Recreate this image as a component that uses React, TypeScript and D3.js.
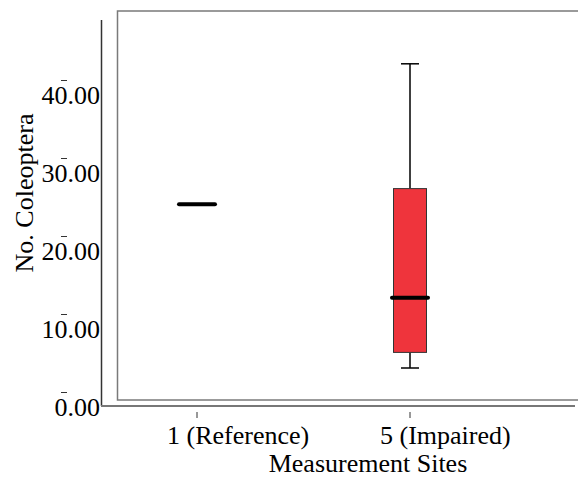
import React from 'react';
import * as d3 from 'd3';

const sites = ['1 (Reference)', '5 (Impaired)'];
const whiskerLow = [26, 5];
const q1 = [26, 7];
const median = [26, 14];
const q3 = [26, 28];
const whiskerHigh = [26, 44];
const yTicks = [0, 10, 20, 30, 40];

const W = 578;
const H = 478;
const font = '"Liberation Serif", "Times New Roman", serif';

const App = () => {
  const x = d3.scalePoint<string>().domain(sites).range([197, 410]);
  const y = d3.scaleLinear().domain([0, 40]).range([407, 95]);

  const boxW = 33;
  const capW = 18;

  return (
    <div style={{ position: 'fixed', left: 0, top: 0 }}>
      <svg width={W} height={H} style={{ display: 'block', fontFamily: font }}>
        <rect width={W} height={H} fill="#fff" />

        {/* inner frame */}
        <rect x={117.5} y={11} width={W} height={389} fill="none" stroke="#7a7a7a" strokeWidth={1.5} />

        {/* axes */}
        <line x1={101.5} y1={20} x2={101.5} y2={406} stroke="#333" strokeWidth={1.5} />
        <line x1={101} y1={406} x2={575} y2={406} stroke="#777" strokeWidth={2} />

        {/* y ticks */}
        {yTicks.map(t => (
          <g key={`y-${t}`}>
            <line x1={61} x2={67} y1={y(t) - 14.5} y2={y(t) - 14.5} stroke="#333" strokeWidth={1} />
            <text x={100} y={y(t)} dy="0.33em" textAnchor="end" fontSize={26} fill="#000">
              {t.toFixed(2)}
            </text>
          </g>
        ))}

        {/* x ticks */}
        {sites.map(s => (
          <g key={`x-${s}`}>
            <line x1={x(s)} x2={x(s)} y1={412} y2={418} stroke="#333" strokeWidth={1} />
            <text x={(x(s) as number) - 30} y={444} textAnchor="start" fontSize={26} fill="#000">
              {s}
            </text>
          </g>
        ))}

        {/* boxes */}
        {sites.map((s, i) => {
          const cx = x(s) as number;
          const hasBox = q3[i] > q1[i];
          return (
            <g key={`box-${s}`}>
              {whiskerHigh[i] > q3[i] && (
                <g stroke="#000" strokeWidth={1.5}>
                  <line x1={cx} x2={cx} y1={y(q3[i])} y2={y(whiskerHigh[i])} />
                  <line x1={cx - capW / 2} x2={cx + capW / 2} y1={y(whiskerHigh[i])} y2={y(whiskerHigh[i])} />
                </g>
              )}
              {whiskerLow[i] < q1[i] && (
                <g stroke="#000" strokeWidth={1.5}>
                  <line x1={cx} x2={cx} y1={y(q1[i])} y2={y(whiskerLow[i])} />
                  <line x1={cx - capW / 2} x2={cx + capW / 2} y1={y(whiskerLow[i])} y2={y(whiskerLow[i])} />
                </g>
              )}
              {hasBox && (
                <rect
                  x={cx - boxW / 2}
                  y={y(q3[i])}
                  width={boxW}
                  height={y(q1[i]) - y(q3[i])}
                  fill="#ef343c"
                  stroke="#333"
                  strokeWidth={1}
                />
              )}
              <line
                x1={cx - 18}
                x2={cx + 18}
                y1={y(median[i])}
                y2={y(median[i])}
                stroke="#000"
                strokeWidth={4}
                strokeLinecap="round"
              />
            </g>
          );
        })}

        {/* axis titles */}
        <text x={368} y={472} textAnchor="middle" fontSize={26} fill="#000">
          Measurement Sites
        </text>
        <text transform="translate(33, 193) rotate(-90)" textAnchor="middle" fontSize={26} fill="#000">
          No. Coleoptera
        </text>
      </svg>
    </div>
  );
};

export default App;
